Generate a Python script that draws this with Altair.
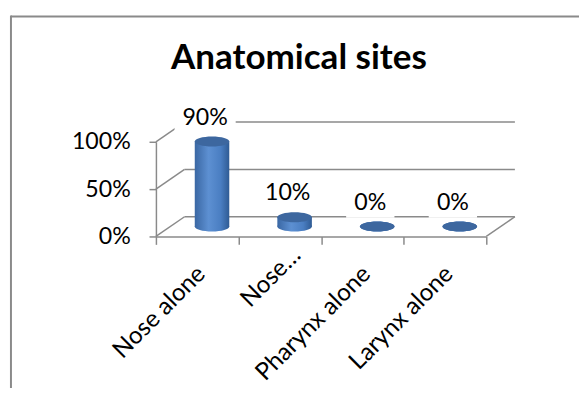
import altair as alt
import pandas as pd

# ---- data ----
categories = ["Nose alone", "Nose…", "Pharynx alone", "Larynx alone"]
values = [0.90, 0.10, 0.0, 0.0]
grid_levels = [0.0, 0.5, 1.0]
title_text = "Anatomical sites"

# ---- layout / style ----
W, H = 335, 96          # front plane of the plot
DX, DY = 29, -20        # 3-D depth offset (pixels)
FONT = "Lato"
FS = 23.5
GRAY = "#8a8a8a"
TOP = "#3d679f"
BODY = {
    "gradient": "linear", "x1": 0, "y1": 0, "x2": 1, "y2": 0,
    "stops": [
        {"offset": 0.0, "color": "#3a67a3"},
        {"offset": 0.4, "color": "#5d90d2"},
        {"offset": 0.75, "color": "#4a7ec2"},
        {"offset": 1.0, "color": "#2f5b94"},
    ],
}
ELLIPSE = "M-1,0 A1,0.29 0 1,1 1,0 A1,0.29 0 1,1 -1,0 Z"

df = pd.DataFrame({"site": categories, "share": values})
grid_df = pd.DataFrame({"level": grid_levels})
frame_df = pd.DataFrame({"k": [0]})

yscale = alt.Scale(domain=[0, 1], nice=False)
xscale = alt.Scale(paddingInner=0, paddingOuter=0)

short_label = "datum.value == '" + categories[1] + "'"
x_axis = alt.Axis(
    title=None, labelAngle=-45, labelAlign="right", labelBaseline="middle",
    labelFont=FONT, labelFontSize=24.5, labelColor="black",
    labelPadding={"condition": {"test": short_label, "value": 7}, "value": 26},
    labelOffset={"condition": {"test": short_label, "value": 17}, "value": 4},
    tickBand="extent", tickSize=8, tickColor=GRAY, tickWidth=1.5,
    domainColor=GRAY, domainWidth=1.5, grid=False, labelLimit=300,
)
y_axis = alt.Axis(
    title=None, values=grid_levels, format=".0%",
    labelFont=FONT, labelFontSize=FS, labelColor="black", labelPadding=19,
    tickSize=7, tickColor=GRAY, tickWidth=1.5,
    domainColor=GRAY, domainWidth=1.5, grid=False,
)

xenc = alt.X("site:N", sort=categories, scale=xscale, axis=x_axis)

# outer frame (top and left edges only)
border_top = alt.Chart(frame_df).mark_rule(color=GRAY, strokeWidth=2).encode(
    x=alt.value(-147), x2=alt.value(440), y=alt.value(-127)
)
border_left = alt.Chart(frame_df).mark_rule(color=GRAY, strokeWidth=2).encode(
    x=alt.value(-147), y=alt.value(-128), y2=alt.value(260)
)

# back-wall gridlines
back_grid = alt.Chart(grid_df).mark_rule(color=GRAY, strokeWidth=1.5, yOffset=DY).encode(
    x=alt.value(DX), x2=alt.value(W + DX),
    y=alt.Y("level:Q", scale=yscale, axis=y_axis),
)
# side-wall diagonals
left_diag = alt.Chart(grid_df).mark_rule(color=GRAY, strokeWidth=1.5, y2Offset=DY).encode(
    x=alt.value(0), x2=alt.value(DX),
    y=alt.Y("level:Q"), y2=alt.Y2("level"),
)
right_diag = alt.Chart(grid_df).transform_filter("datum.level == 0").mark_rule(
    color=GRAY, strokeWidth=1.5, y2Offset=DY
).encode(
    x=alt.value(W), x2=alt.value(W + DX),
    y=alt.Y("level:Q"), y2=alt.Y2("level"),
)

labelled = alt.Chart(df).transform_calculate(
    label="format(datum.share, '.0%')",
    boxw="length(datum.label) * 13 + 23",
)

# white boxes behind data labels
label_box = labelled.mark_bar(color="white", xOffset=8, yOffset=-49, y2Offset=-19).encode(
    x=xenc, y=alt.Y("share:Q"), y2=alt.Y2("share"),
    size=alt.Size("boxw:Q", scale=None, legend=None),
)

# cylinders
cyl_bottom = alt.Chart(df).mark_point(
    shape=ELLIPSE, size=1225, filled=True, opacity=1, strokeWidth=0,
    color=BODY, xOffset=15, yOffset=-10,
).encode(x=xenc, y=alt.datum(0))
cyl_body = alt.Chart(df).mark_bar(
    width=35, color=BODY, xOffset=15, yOffset=-10, y2Offset=-10,
).encode(x=xenc, y=alt.Y("share:Q"), y2=alt.datum(0))
cyl_top = alt.Chart(df).mark_point(
    shape=ELLIPSE, size=1225, filled=True, opacity=1, strokeWidth=0,
    color=TOP, xOffset=15, yOffset=-10,
).encode(x=xenc, y=alt.Y("share:Q"))

labels = labelled.mark_text(
    font=FONT, fontSize=FS, color="black", baseline="middle", align="center",
    xOffset=8, yOffset=-34,
).encode(x=xenc, y=alt.Y("share:Q"), text="label:N")

title = alt.Chart(frame_df).mark_text(
    font=FONT, fontSize=35.5, fontWeight="bold", color="black",
    align="center", baseline="alphabetic",
).encode(x=alt.value(145), y=alt.value(-74), text=alt.value(title_text))

chart = alt.layer(
    back_grid, left_diag, right_diag, border_top, border_left,
    label_box, cyl_bottom, cyl_body, cyl_top, labels, title,
).properties(
    width=W, height=H,
    autosize=alt.AutoSizeParams(type="none"),
    padding={"left": 150, "top": 133, "right": 94, "bottom": 151},
    background="white",
).configure_view(stroke=None)

chart.save("out.html", embed_options={"renderer": "svg", "actions": False})
